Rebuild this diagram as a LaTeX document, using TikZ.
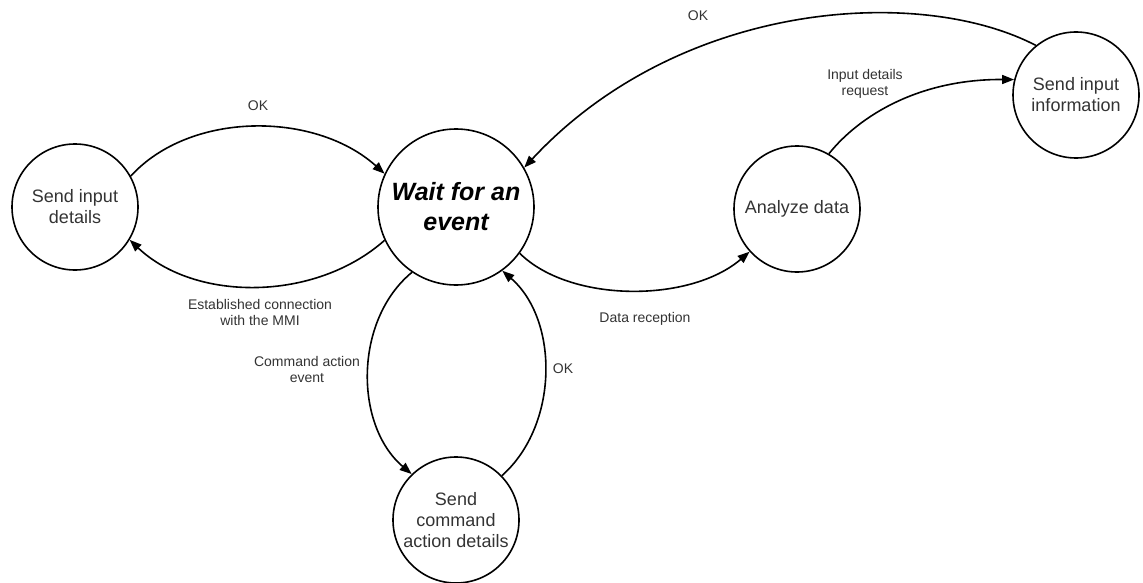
\documentclass[tikz,border=0pt]{standalone}
\usepackage{fontspec}
\setmainfont{Liberation Sans}
\usetikzlibrary{arrows.meta}
\definecolor{txt}{HTML}{333333}
\begin{document}
\begin{tikzpicture}[x=1pt,y=-1pt,
  state/.style={circle,draw=black,line width=1.6pt,inner sep=0pt,align=center,text=txt,font=\fontsize{18}{21}\selectfont},
  small/.style={state,minimum size=126pt},
  conn/.style={line width=1.6pt,-{Triangle[length=12pt,width=9pt]}},
  lbl/.style={align=center,text=txt,font=\fontsize{14}{16}\selectfont,inner sep=0pt}]
\useasboundingbox (0,0) rectangle (1143,583);
\node[small] (sid) at (75,207) {Send input\\details};
\node[state,minimum size=156pt,font=\fontsize{25}{30}\selectfont\bfseries\itshape,text=black] (wait) at (456,207) {Wait for an\\event};
\node[small] (ad) at (797,209) {Analyze data};
\node[small] (sii) at (1076,95) {Send input\\information};
\node[small] (scad) at (456,520) {Send\\command\\action details};

\draw[conn] (sid.29) .. controls (190,111) and (315,111) .. (wait.155);
\draw[conn] (wait.205) .. controls (315,302) and (195,302) .. (sid.-31);
\draw[conn] (wait.236) .. controls (354,320) and (354,425) .. (scad.134);
\draw[conn] (scad.44) .. controls (559,425) and (559,320) .. (wait.306);
\draw[conn] (wait.-36) .. controls (570,303) and (690,303) .. (ad.222);
\draw[conn] (ad.60) .. controls (860,115) and (920,79) .. (sii.166);
\draw[conn] (sii.129) .. controls (920,-15) and (680,0) .. (wait.30);

\node[lbl] (l1) at (258,106) {OK};
\node[lbl] (l2) at (260,312) {Established connection\\with the MMI};
\node[lbl] (l3) at (307,369) {Command action\\event};
\node[lbl] (l4) at (563,369) {OK};
\node[lbl] (l5) at (645,319) {Data reception};
\node[lbl] (l6) at (865,84) {Input details\\request};
\node[lbl] (l7) at (698,16) {OK};
\end{tikzpicture}
\end{document}
